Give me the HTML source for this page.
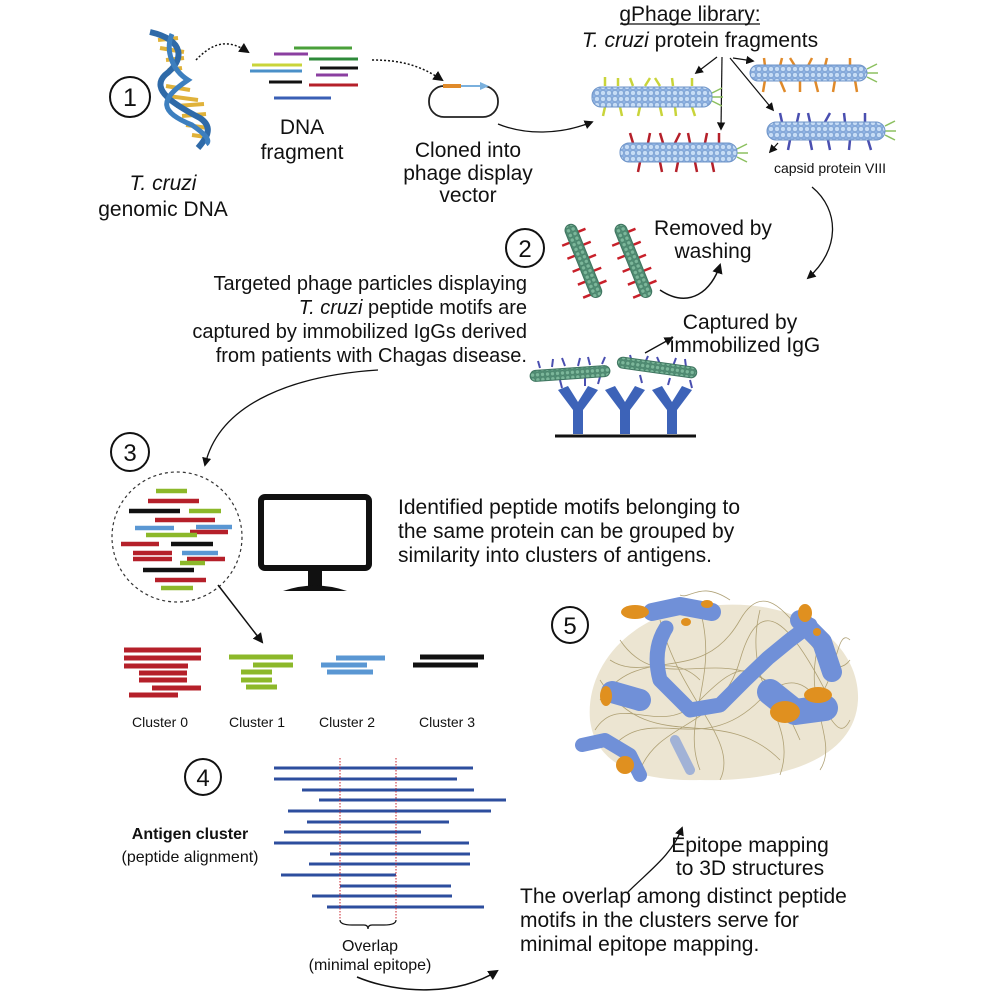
<!DOCTYPE html>
<html><head><meta charset="utf-8"><style>
html,body{margin:0;padding:0;background:#fff}
svg{display:block}
text{font-family:"Liberation Sans",Arial,sans-serif;fill:#111}
</style></head><body>
<svg width="996" height="996" viewBox="0 0 996 996" xmlns="http://www.w3.org/2000/svg">
<defs>
<marker id="ah" viewBox="0 0 10 10" refX="8" refY="5" markerWidth="7" markerHeight="7" orient="auto-start-reverse"><path d="M0,0 L10,5 L0,10 z" fill="#111"/></marker>
<pattern id="cap" width="6" height="6" patternUnits="userSpaceOnUse"><rect width="6" height="6" fill="#8fb3e3"/><circle cx="3" cy="3" r="2.6" fill="#c6dcf5" stroke="#6f95c9" stroke-width="0.6"/></pattern>
<pattern id="capg" width="5" height="5" patternUnits="userSpaceOnUse"><rect width="5" height="5" fill="#4f8d73"/><circle cx="2.5" cy="2.5" r="2.1" fill="#7bb79a" stroke="#3f7560" stroke-width="0.5"/></pattern>
</defs>

<!-- Step 1 -->
<circle cx="130" cy="97" r="20" fill="none" stroke="#111" stroke-width="2"/>
<text x="130" y="106" font-size="25" text-anchor="middle">1</text>
<!-- DNA helix -->
<g stroke="#e0b23a" stroke-width="4">
<line x1="158" y1="40" x2="178" y2="38"/><line x1="160" y1="48" x2="184" y2="52"/><line x1="166" y1="60" x2="184" y2="58"/><line x1="168" y1="70" x2="182" y2="68"/>
<line x1="166" y1="86" x2="190" y2="90"/><line x1="168" y1="96" x2="198" y2="100"/><line x1="176" y1="106" x2="204" y2="104"/><line x1="182" y1="116" x2="206" y2="114"/>
<line x1="186" y1="125" x2="208" y2="128"/><line x1="192" y1="135" x2="206" y2="137"/>
</g>
<path d="M150,32 C185,40 185,60 165,75 C150,90 175,105 200,118 C215,128 205,140 198,148" fill="none" stroke="#2f6aa8" stroke-width="6"/>
<path d="M172,34 C165,50 172,70 188,80 C158,100 160,112 192,125 C202,132 212,140 206,144" fill="none" stroke="#3d7fbf" stroke-width="5"/>
<text x="163" y="190" font-size="21" font-style="italic" text-anchor="middle">T. cruzi</text>
<text x="163" y="216" font-size="21" text-anchor="middle">genomic DNA</text>
<path d="M196,60 C215,40 230,40 248,52" fill="none" stroke="#111" stroke-width="1.5" stroke-dasharray="2,2" marker-end="url(#ah)"/>
<!-- DNA fragments -->
<g stroke-width="3">
<line x1="294" y1="48" x2="352" y2="48" stroke="#4aa03a"/>
<line x1="274" y1="54" x2="308" y2="54" stroke="#8b3fa0"/>
<line x1="309" y1="59" x2="358" y2="59" stroke="#2e8a3a"/>
<line x1="252" y1="65" x2="302" y2="65" stroke="#c9d43a"/>
<line x1="250" y1="71" x2="302" y2="71" stroke="#4a90c8"/>
<line x1="320" y1="68" x2="358" y2="68" stroke="#111"/>
<line x1="316" y1="75" x2="348" y2="75" stroke="#8b3fa0"/>
<line x1="269" y1="82" x2="302" y2="82" stroke="#111"/>
<line x1="309" y1="85" x2="358" y2="85" stroke="#b5202a"/>
<line x1="274" y1="98" x2="331" y2="98" stroke="#3a5fb5"/>
</g>
<text x="302" y="134" font-size="21" text-anchor="middle">DNA</text>
<text x="302" y="159" font-size="21" text-anchor="middle">fragment</text>
<path d="M372,60 C400,60 420,65 442,80" fill="none" stroke="#111" stroke-width="1.5" stroke-dasharray="2,2" marker-end="url(#ah)"/>
<!-- plasmid -->
<rect x="429" y="86" width="69" height="31" rx="15" fill="none" stroke="#222" stroke-width="1.8"/>
<rect x="443" y="84" width="18" height="4" fill="#e08a2a"/>
<line x1="461" y1="86" x2="483" y2="86" stroke="#7ab0dd" stroke-width="2"/>
<path d="M480,82 L489,86 L480,90z" fill="#7ab0dd"/>
<text x="468" y="157" font-size="21" text-anchor="middle">Cloned into</text>
<text x="468" y="180" font-size="21" text-anchor="middle">phage display</text>
<text x="468" y="202" font-size="21" text-anchor="middle">vector</text>
<path d="M498,124 C525,135 560,135 592,122" fill="none" stroke="#111" stroke-width="1.3" marker-end="url(#ah)"/>

<!-- gPhage library -->
<text x="690" y="21" font-size="21" text-anchor="middle">gPhage library:</text>
<line x1="620" y1="24" x2="760" y2="24" stroke="#111" stroke-width="1.3"/>
<text x="700" y="47" font-size="21" text-anchor="middle"><tspan font-style="italic">T. cruzi</tspan> protein fragments</text>
<g stroke="#111" stroke-width="1.2" fill="none" marker-end="url(#ah)">
<line x1="717" y1="57" x2="696" y2="73"/>
<line x1="722" y1="57" x2="721" y2="129"/>
<line x1="733" y1="58" x2="753" y2="61"/>
<line x1="730" y1="58" x2="773" y2="110"/>
<line x1="778" y1="143" x2="770" y2="152"/>
</g>
<!-- phage rods -->
<g stroke-width="2.5">
<g stroke="#c9d43a"><line x1="605" y1="86" x2="605" y2="77"/><line x1="618" y1="86" x2="618" y2="78"/><line x1="633" y1="86" x2="630" y2="78"/><line x1="645" y1="86" x2="650" y2="78"/><line x1="660" y1="86" x2="655" y2="78"/><line x1="673" y1="86" x2="672" y2="78"/><line x1="692" y1="86" x2="692" y2="78"/>
<line x1="605" y1="107" x2="603" y2="116"/><line x1="620" y1="107" x2="622" y2="116"/><line x1="640" y1="107" x2="638" y2="116"/><line x1="660" y1="107" x2="662" y2="116"/><line x1="675" y1="107" x2="676" y2="116"/><line x1="692" y1="107" x2="695" y2="116"/></g>
<g stroke="#e08a2a"><line x1="765" y1="66" x2="764" y2="58"/><line x1="780" y1="66" x2="782" y2="58"/><line x1="795" y1="66" x2="790" y2="58"/><line x1="808" y1="66" x2="812" y2="58"/><line x1="825" y1="66" x2="827" y2="58"/><line x1="850" y1="66" x2="850" y2="58"/>
<line x1="765" y1="80" x2="763" y2="92"/><line x1="780" y1="80" x2="785" y2="92"/><line x1="800" y1="80" x2="800" y2="92"/><line x1="815" y1="80" x2="818" y2="92"/><line x1="835" y1="80" x2="833" y2="92"/><line x1="855" y1="80" x2="857" y2="92"/></g>
<g stroke="#b5202a"><line x1="633" y1="143" x2="630" y2="133"/><line x1="648" y1="143" x2="650" y2="133"/><line x1="663" y1="143" x2="660" y2="133"/><line x1="675" y1="143" x2="680" y2="133"/><line x1="690" y1="143" x2="688" y2="133"/><line x1="705" y1="143" x2="707" y2="133"/><line x1="719" y1="143" x2="719" y2="133"/>
<line x1="640" y1="162" x2="638" y2="172"/><line x1="660" y1="162" x2="662" y2="172"/><line x1="678" y1="162" x2="676" y2="172"/><line x1="695" y1="162" x2="697" y2="172"/><line x1="712" y1="162" x2="714" y2="172"/></g>
<g stroke="#4a4fb0"><line x1="782" y1="122" x2="780" y2="113"/><line x1="797" y1="122" x2="799" y2="113"/><line x1="810" y1="122" x2="808" y2="113"/><line x1="825" y1="122" x2="830" y2="113"/><line x1="845" y1="122" x2="844" y2="113"/><line x1="865" y1="122" x2="865" y2="113"/>
<line x1="790" y1="140" x2="788" y2="150"/><line x1="810" y1="140" x2="812" y2="150"/><line x1="828" y1="140" x2="830" y2="150"/><line x1="850" y1="140" x2="849" y2="150"/><line x1="868" y1="140" x2="871" y2="150"/></g>
<g stroke="#8cc060" stroke-width="1.5"><line x1="712" y1="93" x2="722" y2="88"/><line x1="712" y1="97" x2="723" y2="97"/><line x1="712" y1="101" x2="722" y2="106"/>
<line x1="867" y1="69" x2="877" y2="64"/><line x1="867" y1="73" x2="878" y2="73"/><line x1="867" y1="77" x2="877" y2="82"/>
<line x1="737" y1="149" x2="747" y2="144"/><line x1="737" y1="153" x2="748" y2="153"/><line x1="737" y1="157" x2="747" y2="162"/>
<line x1="885" y1="126" x2="895" y2="121"/><line x1="885" y1="131" x2="896" y2="131"/><line x1="885" y1="135" x2="895" y2="140"/></g>
</g>
<rect x="592" y="87" width="120" height="20" rx="9" fill="url(#cap)" stroke="#6f95c9"/>
<rect x="750" y="65" width="117" height="16" rx="8" fill="url(#cap)" stroke="#6f95c9"/>
<rect x="620" y="143" width="117" height="19" rx="9" fill="url(#cap)" stroke="#6f95c9"/>
<rect x="767" y="122" width="118" height="18" rx="9" fill="url(#cap)" stroke="#6f95c9"/>
<text x="830" y="173" font-size="14" text-anchor="middle">capsid protein VIII</text>
<path d="M812,187 C840,210 840,250 808,278" fill="none" stroke="#111" stroke-width="1.3" marker-end="url(#ah)"/>

<!-- Step 2 -->
<circle cx="525" cy="248" r="19" fill="none" stroke="#111" stroke-width="2"/>
<text x="525" y="257" font-size="24" text-anchor="middle">2</text>
<g transform="translate(583,260) rotate(68)">
<g stroke="#c8202a" stroke-width="2.5"><line x1="-28" y1="-6" x2="-28" y2="-14"/><line x1="-14" y1="-6" x2="-14" y2="-14"/><line x1="0" y1="-6" x2="0" y2="-14"/><line x1="14" y1="-6" x2="14" y2="-14"/><line x1="28" y1="-6" x2="28" y2="-14"/><line x1="-21" y1="6" x2="-21" y2="14"/><line x1="-7" y1="6" x2="-7" y2="14"/><line x1="7" y1="6" x2="7" y2="14"/><line x1="21" y1="6" x2="21" y2="14"/><line x1="35" y1="6" x2="35" y2="14"/></g>
<rect x="-38" y="-6" width="78" height="12" rx="6" fill="url(#capg)" stroke="#3f7560"/></g>
<g transform="translate(633,260) rotate(68)">
<g stroke="#c8202a" stroke-width="2.5"><line x1="-28" y1="-6" x2="-28" y2="-14"/><line x1="-14" y1="-6" x2="-14" y2="-14"/><line x1="0" y1="-6" x2="0" y2="-14"/><line x1="14" y1="-6" x2="14" y2="-14"/><line x1="28" y1="-6" x2="28" y2="-14"/><line x1="-21" y1="6" x2="-21" y2="14"/><line x1="-7" y1="6" x2="-7" y2="14"/><line x1="7" y1="6" x2="7" y2="14"/><line x1="21" y1="6" x2="21" y2="14"/><line x1="35" y1="6" x2="35" y2="14"/></g>
<rect x="-38" y="-6" width="78" height="12" rx="6" fill="url(#capg)" stroke="#3f7560"/></g>
<path d="M660,290 C690,310 712,290 720,265" fill="none" stroke="#111" stroke-width="1.5" marker-end="url(#ah)"/>
<text x="713" y="235" font-size="21" text-anchor="middle">Removed by</text>
<text x="713" y="258" font-size="21" text-anchor="middle">washing</text>
<text x="527" y="290" font-size="20" text-anchor="end">Targeted phage particles displaying</text>
<text x="527" y="314" font-size="20" text-anchor="end"><tspan font-style="italic">T. cruzi</tspan> peptide motifs are</text>
<text x="527" y="338" font-size="20" text-anchor="end">captured by immobilized IgGs derived</text>
<text x="527" y="362" font-size="20" text-anchor="end">from patients with Chagas disease.</text>
<text x="740" y="329" font-size="21" text-anchor="middle">Captured by</text>
<text x="745" y="352" font-size="21" text-anchor="middle">immobilized IgG</text>
<line x1="645" y1="353" x2="672" y2="338" stroke="#111" stroke-width="1.3" marker-end="url(#ah)"/>
<!-- IgG -->
<g fill="#3d63b8">
<path d="M558,390 L568,386 L578,402 L588,386 L598,390 L583,410 L583,434 L573,434 L573,410 Z"/>
<path d="M605,390 L615,386 L625,402 L635,386 L645,390 L630,410 L630,434 L620,434 L620,410 Z"/>
<path d="M652,390 L662,386 L672,402 L682,386 L692,390 L677,410 L677,434 L667,434 L667,410 Z"/>
</g>
<line x1="555" y1="436" x2="696" y2="436" stroke="#111" stroke-width="3"/>
<g stroke="#4a4fb0" stroke-width="2"><line x1="540" y1="368" x2="538" y2="361"/><line x1="552" y1="367" x2="553" y2="359"/><line x1="565" y1="366" x2="562" y2="358"/><line x1="578" y1="366" x2="580" y2="358"/><line x1="590" y1="365" x2="588" y2="357"/><line x1="602" y1="364" x2="605" y2="357"/><line x1="632" y1="362" x2="630" y2="355"/><line x1="645" y1="363" x2="648" y2="356"/><line x1="660" y1="364" x2="657" y2="357"/><line x1="673" y1="366" x2="676" y2="358"/><line x1="686" y1="367" x2="685" y2="359"/>
<line x1="560" y1="380" x2="562" y2="388"/><line x1="585" y1="378" x2="585" y2="386"/><line x1="600" y1="377" x2="598" y2="384"/><line x1="640" y1="375" x2="642" y2="383"/><line x1="670" y1="378" x2="668" y2="385"/><line x1="690" y1="380" x2="692" y2="388"/></g>
<rect x="530" y="368" width="80" height="11" rx="5.5" fill="url(#capg)" stroke="#3f7560" transform="rotate(-4 570 373)"/>
<rect x="617" y="362" width="80" height="11" rx="5.5" fill="url(#capg)" stroke="#3f7560" transform="rotate(8 657 368)"/>

<path d="M378,370 C300,375 220,400 205,465" fill="none" stroke="#111" stroke-width="1.3" marker-end="url(#ah)"/>

<!-- Step 3 -->
<circle cx="130" cy="452" r="19" fill="none" stroke="#111" stroke-width="2"/>
<text x="130" y="461" font-size="24" text-anchor="middle">3</text>
<circle cx="177" cy="537" r="65" fill="none" stroke="#333" stroke-width="1.2" stroke-dasharray="3,3"/>
<g stroke-width="4.5">
<line x1="156" y1="491" x2="187" y2="491" stroke="#8cb82a"/>
<line x1="148" y1="501" x2="199" y2="501" stroke="#b5202a"/>
<line x1="129" y1="511" x2="180" y2="511" stroke="#111"/>
<line x1="189" y1="511" x2="221" y2="511" stroke="#8cb82a"/>
<line x1="155" y1="520" x2="215" y2="520" stroke="#b5202a"/>
<line x1="135" y1="528" x2="174" y2="528" stroke="#5a97d3"/>
<line x1="196" y1="527" x2="232" y2="527" stroke="#5a97d3"/>
<line x1="190" y1="532" x2="228" y2="532" stroke="#b5202a"/>
<line x1="146" y1="535" x2="197" y2="535" stroke="#8cb82a"/>
<line x1="121" y1="544" x2="159" y2="544" stroke="#b5202a"/>
<line x1="171" y1="544" x2="213" y2="544" stroke="#111"/>
<line x1="133" y1="553" x2="172" y2="553" stroke="#b5202a"/>
<line x1="182" y1="553" x2="218" y2="553" stroke="#5a97d3"/>
<line x1="133" y1="559" x2="172" y2="559" stroke="#b5202a"/>
<line x1="187" y1="559" x2="225" y2="559" stroke="#b5202a"/>
<line x1="180" y1="563" x2="205" y2="563" stroke="#8cb82a"/>
<line x1="143" y1="570" x2="194" y2="570" stroke="#111"/>
<line x1="155" y1="580" x2="206" y2="580" stroke="#b5202a"/>
<line x1="161" y1="588" x2="193" y2="588" stroke="#8cb82a"/>
</g>
<line x1="218" y1="585" x2="262" y2="642" stroke="#111" stroke-width="1.5" marker-end="url(#ah)"/>
<!-- monitor -->
<rect x="261" y="497" width="108" height="71" rx="4" fill="#fff" stroke="#111" stroke-width="6"/>
<rect x="308" y="570" width="14" height="16" fill="#111"/>
<path d="M283,591 Q315,580 347,591 Z" fill="#111"/>
<text x="398" y="514" font-size="21">Identified peptide motifs belonging to</text>
<text x="398" y="538" font-size="21">the same protein can be grouped by</text>
<text x="398" y="562" font-size="21">similarity into clusters of antigens.</text>
<!-- clusters -->
<g stroke-width="5">
<g stroke="#b5202a"><line x1="124" y1="650" x2="201" y2="650"/><line x1="124" y1="658" x2="201" y2="658"/><line x1="124" y1="666" x2="188" y2="666"/><line x1="139" y1="673" x2="187" y2="673"/><line x1="139" y1="680" x2="187" y2="680"/><line x1="152" y1="688" x2="201" y2="688"/><line x1="129" y1="695" x2="178" y2="695"/></g>
<g stroke="#8cb82a"><line x1="229" y1="657" x2="293" y2="657"/><line x1="253" y1="665" x2="293" y2="665"/><line x1="241" y1="672" x2="272" y2="672"/><line x1="241" y1="680" x2="272" y2="680"/><line x1="246" y1="687" x2="277" y2="687"/></g>
<g stroke="#5a97d3"><line x1="336" y1="658" x2="385" y2="658"/><line x1="321" y1="665" x2="367" y2="665"/><line x1="327" y1="672" x2="373" y2="672"/></g>
<g stroke="#111"><line x1="420" y1="657" x2="484" y2="657"/><line x1="413" y1="665" x2="478" y2="665"/></g>
</g>
<text x="160" y="727" font-size="14" text-anchor="middle">Cluster 0</text>
<text x="257" y="727" font-size="14" text-anchor="middle">Cluster 1</text>
<text x="347" y="727" font-size="14" text-anchor="middle">Cluster 2</text>
<text x="447" y="727" font-size="14" text-anchor="middle">Cluster 3</text>

<!-- Step 4 -->
<circle cx="203" cy="777" r="18" fill="none" stroke="#111" stroke-width="2"/>
<text x="203" y="786" font-size="24" text-anchor="middle">4</text>
<text x="190" y="839" font-size="16" font-weight="bold" text-anchor="middle">Antigen cluster</text>
<text x="190" y="862" font-size="16" text-anchor="middle">(peptide alignment)</text>
<g stroke="#2d4e9e" stroke-width="3">
<line x1="274" y1="768" x2="473" y2="768"/><line x1="274" y1="779" x2="457" y2="779"/><line x1="302" y1="790" x2="474" y2="790"/><line x1="319" y1="800" x2="506" y2="800"/>
<line x1="288" y1="811" x2="491" y2="811"/><line x1="307" y1="822" x2="449" y2="822"/><line x1="284" y1="832" x2="421" y2="832"/><line x1="274" y1="843" x2="469" y2="843"/>
<line x1="330" y1="854" x2="470" y2="854"/><line x1="309" y1="864" x2="470" y2="864"/><line x1="281" y1="875" x2="396" y2="875"/><line x1="340" y1="886" x2="451" y2="886"/>
<line x1="312" y1="896" x2="452" y2="896"/><line x1="327" y1="907" x2="484" y2="907"/>
</g>
<g stroke="#c8202a" stroke-width="1" stroke-dasharray="1.5,1.5"><line x1="340" y1="758" x2="340" y2="920"/><line x1="396" y1="758" x2="396" y2="920"/></g>
<path d="M340,920 Q340,925 352,925 L364,925 Q368,925 368,929 Q368,925 372,925 L384,925 Q396,925 396,920" fill="none" stroke="#111" stroke-width="1.2"/>
<text x="370" y="951" font-size="16" text-anchor="middle">Overlap</text>
<text x="370" y="970" font-size="16" text-anchor="middle">(minimal epitope)</text>
<path d="M357,977 C400,995 460,995 497,971" fill="none" stroke="#111" stroke-width="1.5" marker-end="url(#ah)"/>
<text x="520" y="903" font-size="21">The overlap among distinct peptide</text>
<text x="520" y="927" font-size="21">motifs in the clusters serve for</text>
<text x="520" y="951" font-size="21">minimal epitope mapping.</text>
<path d="M628,892 C650,870 672,855 682,828" fill="none" stroke="#111" stroke-width="1.3" marker-end="url(#ah)"/>
<text x="750" y="852" font-size="21" text-anchor="middle">Epitope mapping</text>
<text x="750" y="875" font-size="21" text-anchor="middle">to 3D structures</text>

<!-- Step 5 -->
<circle cx="570" cy="625" r="18" fill="none" stroke="#111" stroke-width="2"/>
<text x="570" y="634" font-size="24" text-anchor="middle">5</text>
<g>
<path d="M590,720 C585,660 640,605 720,605 C810,600 860,650 858,700 C855,760 780,782 700,780 C630,782 595,760 590,720 Z" fill="#ece5d2"/>
<g fill="none" stroke="#a8996a" stroke-width="0.8" opacity="0.9">
<path d="M600,700 C640,640 700,690 740,620 S820,700 850,660"/><path d="M610,750 C650,700 700,760 760,700 S830,760 850,720"/>
<path d="M620,640 C660,700 720,640 780,690 S830,620 850,640"/><path d="M600,680 C650,760 720,700 780,760"/>
<path d="M660,620 C680,700 740,740 720,780"/><path d="M760,610 C740,690 800,720 780,775"/>
<path d="M700,610 C720,680 680,720 700,770"/><path d="M820,640 C800,700 840,740 820,770"/>
<path d="M595,730 C620,690 660,740 700,700 S760,650 800,740"/><path d="M640,770 C660,720 720,730 740,660 S790,620 830,700"/>
<path d="M730,600 C700,580 690,600 680,595"/><path d="M610,660 C640,680 670,650 700,680"/>
</g>
<g fill="none" stroke="#7090d8" stroke-linecap="round" stroke-linejoin="round">
<path d="M652,612 L680,606 L712,612" stroke-width="18"/>
<path d="M666,628 Q652,650 660,680 L690,710 L720,705 L745,680 L768,658 L790,640 L810,625" stroke-width="15"/>
<path d="M800,620 L822,642 L832,672" stroke-width="20"/>
<path d="M770,692 L795,712 L825,708" stroke-width="26"/>
<path d="M612,692 L640,700" stroke-width="22"/>
<path d="M582,745 L605,740 L630,755 L640,775" stroke-width="14"/>
<path d="M675,740 L690,770" stroke-width="10" opacity="0.6"/>
</g>
<g fill="#e0901f">
<ellipse cx="635" cy="612" rx="14" ry="7"/><ellipse cx="707" cy="604" rx="6" ry="4"/><ellipse cx="805" cy="613" rx="7" ry="9"/>
<ellipse cx="606" cy="696" rx="6" ry="10"/><ellipse cx="785" cy="712" rx="15" ry="11"/><ellipse cx="818" cy="695" rx="14" ry="8"/>
<ellipse cx="625" cy="765" rx="9" ry="9"/><ellipse cx="686" cy="622" rx="5" ry="4"/><ellipse cx="817" cy="632" rx="4" ry="4"/>
</g>
</g>
</svg>
</body></html>
